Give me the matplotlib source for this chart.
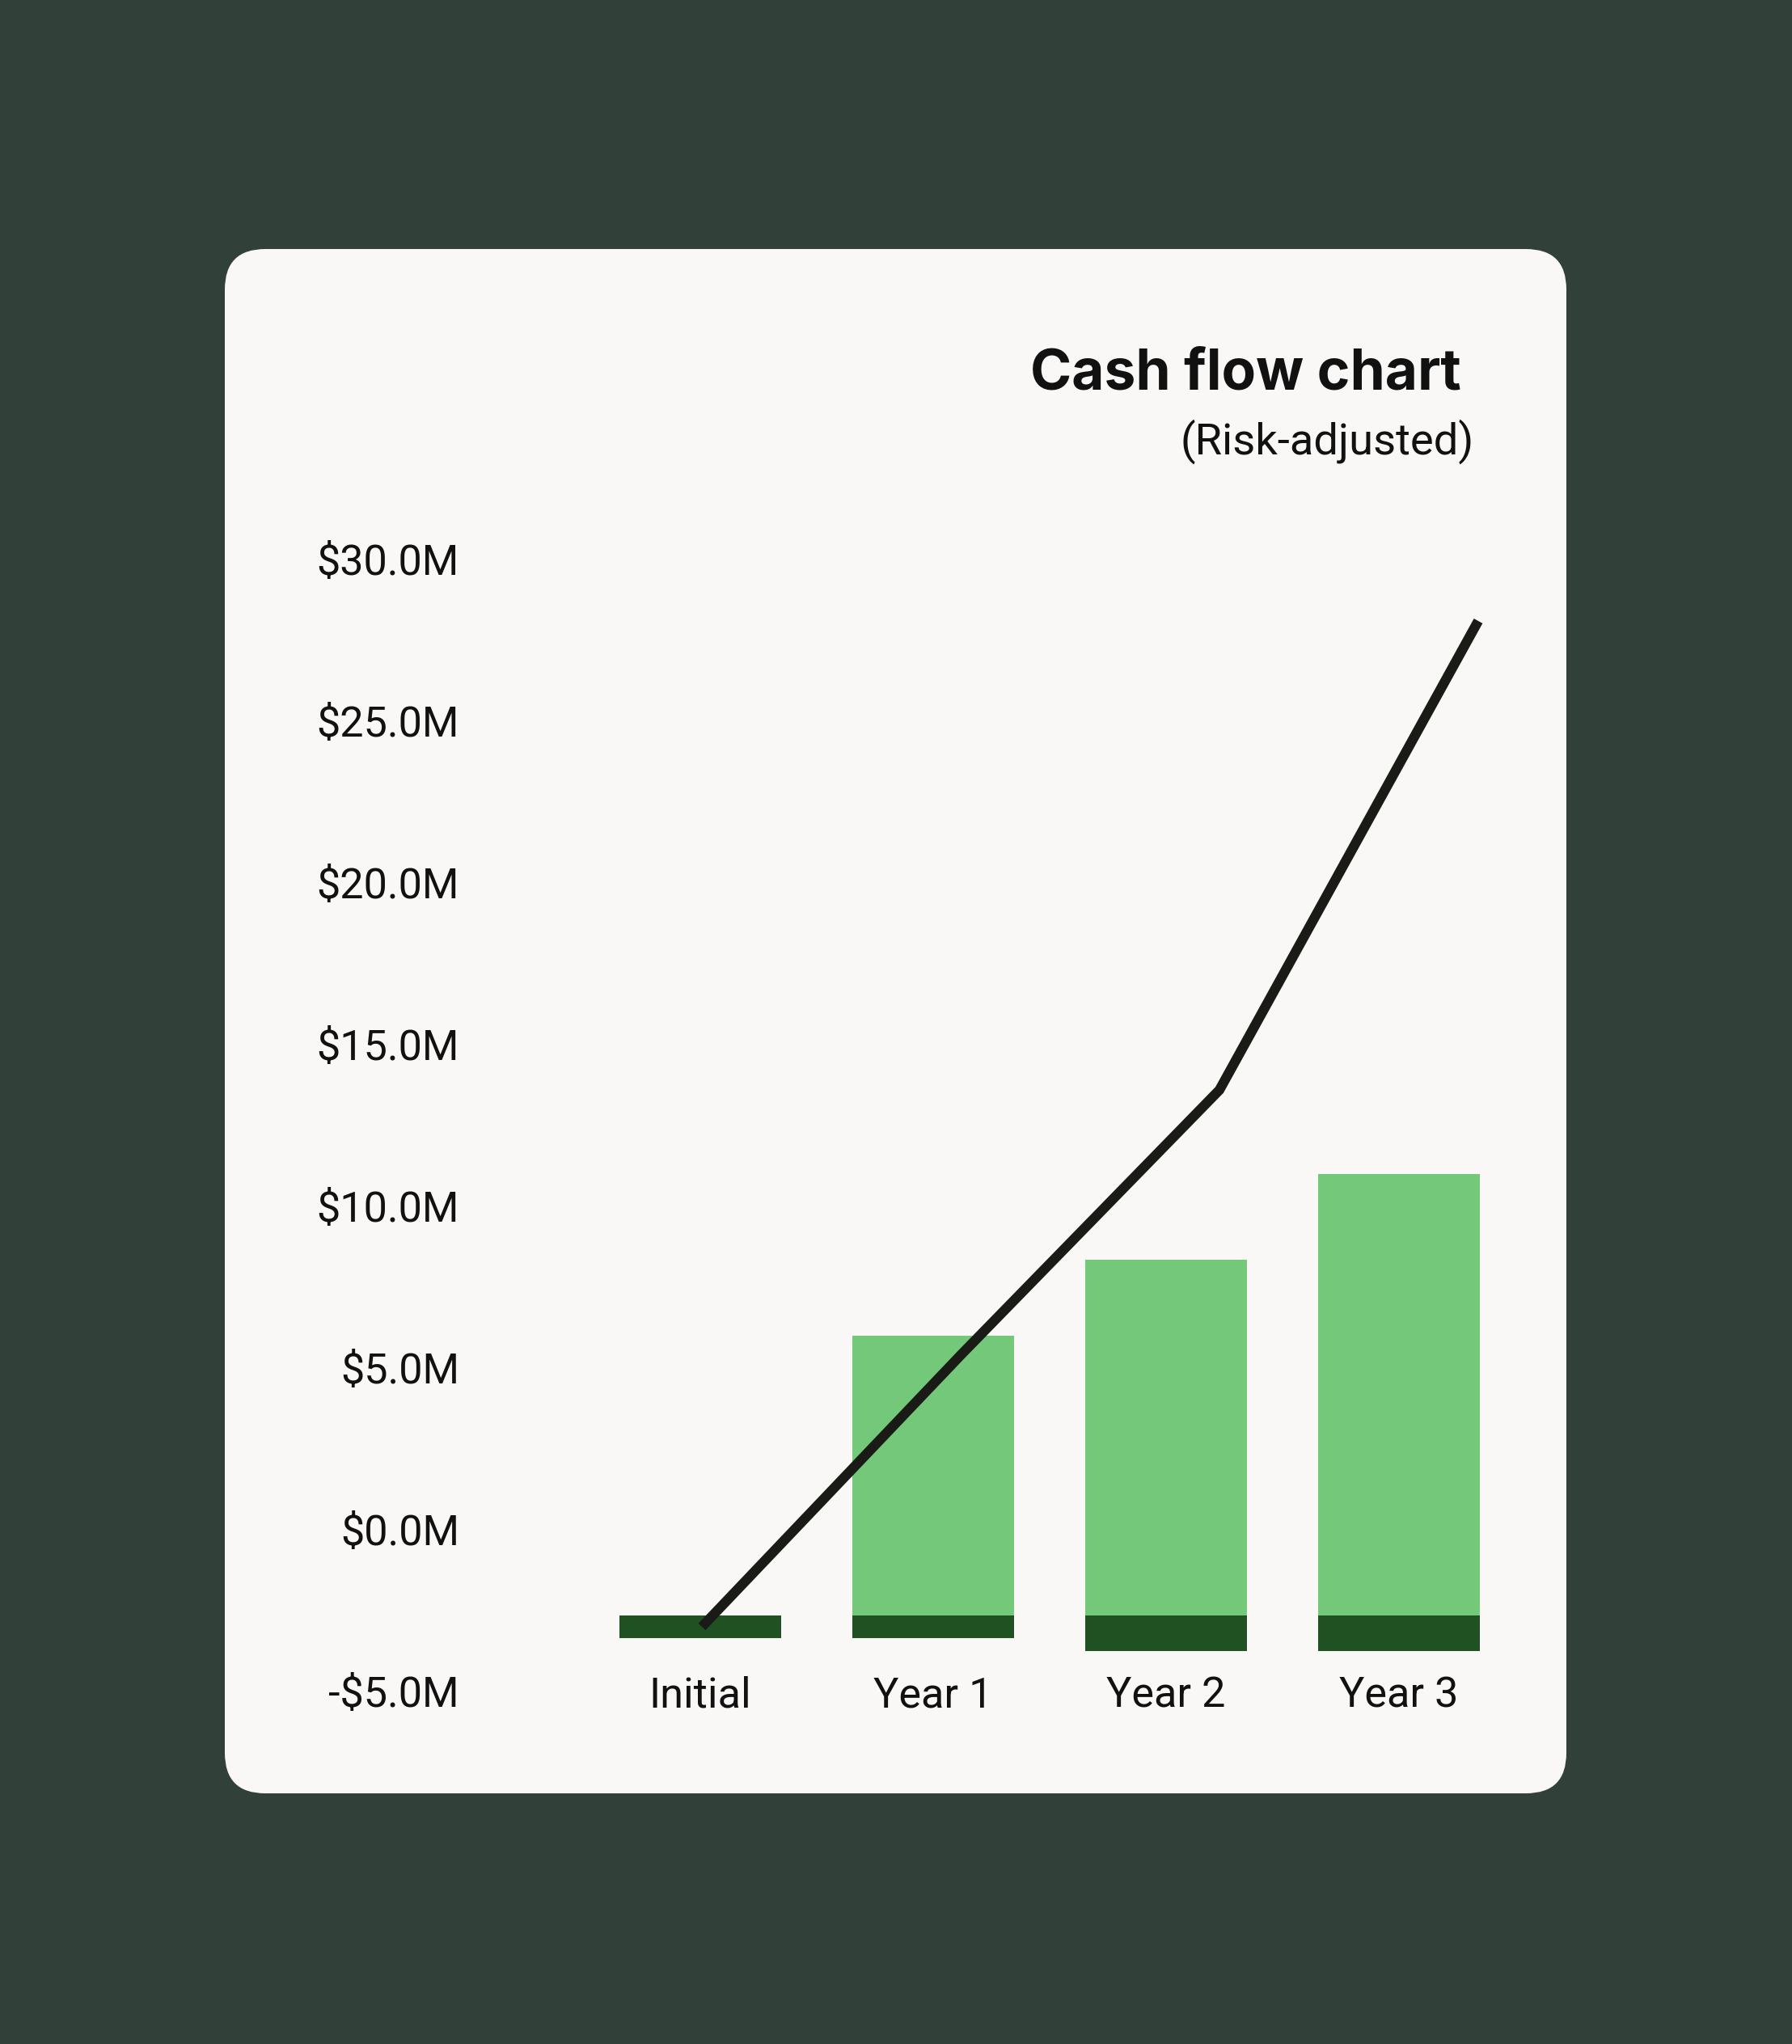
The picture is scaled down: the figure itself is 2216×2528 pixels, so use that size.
import matplotlib

matplotlib.use("Agg")

import matplotlib.pyplot as plt
from matplotlib.patches import FancyBboxPatch

# values, in $M on the labelled axis
categories = ["Initial", "Year 1", "Year 2", "Year 3"]
bar_base = -2.65
bar_top = [-2.65, 6.0, 8.35, 11.0]
bar_bottom = [-3.35, -3.35, -3.75, -3.75]
line_values = [-3.0, 5.4, 13.6, 28.1]
y_ticks = [-5, 0, 5, 10, 15, 20, 25, 30]
y_tick_labels = ["-$5.0M", "$0.0M", "$5.0M", "$10.0M", "$15.0M", "$20.0M", "$25.0M", "$30.0M"]

BG = "#314039"
CARD = "#F9F8F6"
LIGHT_GREEN = "#73C87A"
DARK_GREEN = "#1F5123"
LINE = "#1A1A17"
TEXT = "#111111"

W, H, DPI = 2216, 2528, 200
FONT = ["Roboto", "DejaVu Sans"]
TITLE_FONT = ["Inter", "DejaVu Sans"]

# layout in pixels (from top-left)
AX_L, AX_R, AX_T, AX_B = 620, 1900, 640, 2110
BAR0_PX, BAR_STEP = 866, 288
LINE0_PX, LINE_STEP = 868, 320
ZERO_PX, PX_PER_M = 1892, 40

fig = plt.figure(figsize=(W / DPI, H / DPI), dpi=DPI, facecolor=BG)

# card background
bg = fig.add_axes([0, 0, 1, 1])
bg.set_xlim(0, W)
bg.set_ylim(H, 0)
bg.axis("off")
bg.add_patch(FancyBboxPatch((278, 308), 1937 - 278, 2218 - 308,
                            boxstyle="round,pad=0,rounding_size=50",
                            facecolor=CARD, edgecolor="none"))

ax = fig.add_axes([AX_L / W, 1 - AX_B / H, (AX_R - AX_L) / W, (AX_B - AX_T) / H])
ax.patch.set_alpha(0)
for s in ax.spines.values():
    s.set_visible(False)

x = list(range(len(categories)))
ax.bar(x, [t - bar_base for t in bar_top], bottom=bar_base, width=200 / BAR_STEP,
       color=LIGHT_GREEN, linewidth=0)
ax.bar(x, [b - bar_base for b in bar_bottom], bottom=bar_base, width=200 / BAR_STEP,
       color=DARK_GREEN, linewidth=0)

ax.set_xlim((AX_L - BAR0_PX) / BAR_STEP, (AX_R - BAR0_PX) / BAR_STEP)
ax.set_ylim((ZERO_PX - AX_B) / PX_PER_M, (ZERO_PX - AX_T) / PX_PER_M)
ax.set_xticks([])
ax.set_yticks(y_ticks)
ax.set_yticklabels(y_tick_labels, fontfamily=FONT, fontsize=18.8, color=TEXT)
ax.tick_params(axis="y", length=0, pad=18.7)

for i, name in enumerate(categories):
    ax.text(i, -5, name, ha="center", va="center_baseline",
            fontfamily=FONT, fontsize=18.8, color=TEXT)

# the line sits on its own point scale, a little wider than the bar bands
lx = ax.twiny()
lx.set_xlim((AX_L - LINE0_PX) / LINE_STEP, (AX_R - LINE0_PX) / LINE_STEP)
lx.axis("off")
lx.plot(x, line_values, color=LINE, linewidth=4.4,
        solid_capstyle="butt", solid_joinstyle="miter")

fig.text(1807 / W, 1 - 482 / H, "Cash flow chart", ha="right", va="baseline",
         fontfamily=TITLE_FONT, fontsize=25, fontweight="bold", color=TEXT)
fig.text(1823 / W, 1 - 562 / H, "(Risk-adjusted)", ha="right", va="baseline",
         fontfamily=FONT, fontsize=19.6, color=TEXT)

fig.savefig("out.png", dpi=DPI, facecolor=BG)
